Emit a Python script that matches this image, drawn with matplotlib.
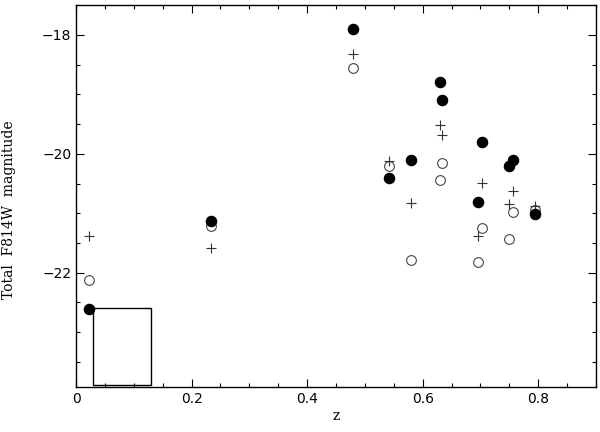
import matplotlib
matplotlib.use("Agg")
import matplotlib.pyplot as plt
from matplotlib.patches import Rectangle
from matplotlib.ticker import MultipleLocator, FuncFormatter

# filled circles
z_filled = [0.479, 0.630, 0.634, 0.703, 0.580, 0.756, 0.749, 0.541, 0.696, 0.794, 0.233, 0.0225]
m_filled = [-17.90, -18.80, -19.10, -19.81, -20.11, -20.11, -20.21, -20.41, -20.81, -21.01, -21.13, -22.61]

# plus signs
z_plus = [0.479, 0.630, 0.634, 0.541, 0.703, 0.756, 0.580, 0.749, 0.794, 0.696, 0.023, 0.233]
m_plus = [-18.32, -19.52, -19.69, -20.12, -20.49, -20.63, -20.82, -20.84, -20.87, -21.38, -21.38, -21.59]

# open circles
z_open = [0.479, 0.634, 0.541, 0.630, 0.756, 0.794, 0.703, 0.749, 0.580, 0.696, 0.233, 0.023]
m_open = [-18.56, -20.16, -20.21, -20.44, -20.98, -20.95, -21.24, -21.43, -21.79, -21.82, -21.22, -22.12]

# box in the lower left corner (z range, magnitude range)
box_z = [0.03, 0.13]
box_m = [-23.88, -22.60]

fig = plt.figure(figsize=(6, 4.32), dpi=100)
ax = fig.add_axes([0.1267, 0.1042, 0.8666, 0.8842])

ax.plot(z_open, m_open, 'o', mfc='none', mec='#444444', ms=7, mew=0.8, ls='none')
ax.plot(z_plus, m_plus, '+', color='#333333', ms=7, mew=0.8, ls='none')
ax.plot(z_filled, m_filled, 'o', color='black', ms=7.3, ls='none')

ax.add_patch(Rectangle((box_z[0], box_m[0]), box_z[1] - box_z[0], box_m[1] - box_m[0],
                       fill=False, ec='black', lw=1.0))

ax.set_xlim(0, 0.9)
ax.set_ylim(-23.92, -17.5)

ax.xaxis.set_major_locator(MultipleLocator(0.2))
ax.xaxis.set_minor_locator(MultipleLocator(0.05))
ax.yaxis.set_major_locator(MultipleLocator(2))
ax.yaxis.set_minor_locator(MultipleLocator(0.5))
ax.tick_params(which='both', direction='in', top=True, right=True, labelsize=10)
ax.tick_params(which='major', length=6, width=0.8)
ax.tick_params(which='minor', length=3, width=0.8)
ax.xaxis.set_major_formatter(FuncFormatter(lambda v, p: '0' if abs(v) < 1e-9 else f'{v:.1f}'))
ax.yaxis.set_major_formatter(FuncFormatter(lambda v, p: f'\u2212{abs(v):.0f}'))

for s in ax.spines.values():
    s.set_linewidth(1.0)

ax.set_xlabel('z', fontsize=10, family='DejaVu Serif', labelpad=2)
ax.set_ylabel('Total  F814W  magnitude', fontsize=10, family='DejaVu Serif')
ax.yaxis.set_label_coords(-0.116, 0.465)

fig.savefig('out.png', dpi=100)
